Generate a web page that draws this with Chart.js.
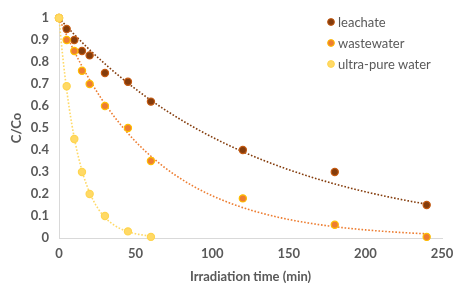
<!DOCTYPE html>
<html>
<head>
<meta charset="utf-8">
<script src="https://cdn.jsdelivr.net/npm/chart.js@4"></script>
<style>
  html, body { margin: 0; padding: 0; background: #fff; }
  #wrap { width: 453px; height: 283px; }
</style>
</head>
<body>
<div id="wrap"><canvas id="myChart" width="453" height="283"></canvas></div>
<script>
// irradiation times (min) and C/Co readings
const leachateTime = [0, 5, 10, 15, 20, 30, 45, 60, 120, 180, 240];
const leachateValues = [1, 0.95, 0.9, 0.85, 0.83, 0.75, 0.71, 0.62, 0.4, 0.3, 0.15];

const wastewaterTime = [0, 5, 10, 15, 20, 30, 45, 60, 120, 180, 240];
const wastewaterValues = [1, 0.9, 0.85, 0.76, 0.7, 0.6, 0.5, 0.35, 0.18, 0.06, 0.005];

const pureTime = [0, 5, 10, 15, 20, 30, 45, 60];
const pureValues = [1, 0.69, 0.45, 0.3, 0.2, 0.1, 0.03, 0.005];

const seriesNames = ["leachate", "wastewater", "ultra-pure water"];

const FONT = "Lato";
const GREY = "#595959";

// exponential trendline C/Co = exp(-k t), k found by least squares on the data
function fitRate(xs, ys) {
  let best = 0, bestErr = Infinity;
  for (let k = 0.0001; k < 0.2; k += 0.0001) {
    let err = 0;
    for (let i = 0; i < xs.length; i++) {
      const r = Math.exp(-k * xs[i]) - ys[i];
      err += r * r;
    }
    if (err < bestErr) { bestErr = err; best = k; }
  }
  return best;
}

function trend(xs, ys) {
  const k = fitRate(xs, ys);
  const maxX = Math.max(...xs);
  const pts = [];
  for (let t = 0; t <= maxX; t += 1) pts.push({ x: t, y: Math.exp(-k * t) });
  return pts;
}

function toPoints(xs, ys) {
  return xs.map((x, i) => ({ x: x, y: ys[i] }));
}

const styles = [
  { fill: "#843C0C", border: "#C55A11", line: "#843C0C" },
  { fill: "#ED7D31", border: "#FFC000", line: "#ED7D31" },
  { fill: "#FFD966", border: "#FFD54F", line: "#FFD966" },
];

const raw = [
  [leachateTime, leachateValues],
  [wastewaterTime, wastewaterValues],
  [pureTime, pureValues],
];

const datasets = [];
raw.forEach((s, i) => {
  datasets.push({
    label: seriesNames[i],
    data: toPoints(s[0], s[1]),
    showLine: false,
    pointRadius: 3.6,
    pointHoverRadius: 3.6,
    pointBackgroundColor: styles[i].fill,
    pointBorderColor: styles[i].border,
    pointBorderWidth: 1.2,
    backgroundColor: styles[i].fill,
    borderColor: styles[i].border,
    order: 3 - i,
    clip: false,
  });
  datasets.push({
    label: "trend " + seriesNames[i],
    data: trend(s[0], s[1]),
    showLine: true,
    pointRadius: 0,
    borderColor: styles[i].line,
    borderWidth: 1.6,
    borderDash: [1.6, 1.8],
    fill: false,
    order: 10 + i,
    clip: false,
  });
});

// legend drawn inside the plot, top right
const insideLegend = {
  id: "insideLegend",
  afterDraw(chart) {
    const ctx = chart.ctx;
    ctx.save();
    ctx.font = "13px " + FONT;
    ctx.textBaseline = "middle";
    seriesNames.forEach((name, i) => {
      const y = 22 + i * 21;
      ctx.beginPath();
      ctx.arc(331, y, 3.4, 0, Math.PI * 2);
      ctx.fillStyle = styles[i].fill;
      ctx.fill();
      ctx.lineWidth = 1;
      ctx.strokeStyle = styles[i].border;
      ctx.stroke();
      ctx.fillStyle = GREY;
      ctx.fillText(name, 338, y + 0.5);
    });
    ctx.restore();
  },
};

const ctx = document.getElementById("myChart").getContext("2d");
new Chart(ctx, {
  type: "scatter",
  data: { datasets: datasets },
  options: {
    responsive: false,
    animation: false,
    events: [],
    layout: { padding: { top: 18, right: 11, left: 0, bottom: 0 } },
    plugins: { legend: { display: false }, tooltip: { enabled: false } },
    scales: {
      x: {
        type: "linear",
        min: 0,
        max: 250,
        ticks: { stepSize: 50, color: GREY, font: { family: FONT, size: 13, weight: "bold" }, padding: 8 },
        grid: { display: false, drawTicks: false },
        border: { display: true, color: "#D9D9D9", width: 1 },
        title: {
          display: true,
          text: "Irradiation time (min)",
          color: GREY,
          font: { family: FONT, size: 13, weight: "bold" },
          padding: { top: 4, bottom: -2 },
        },
        afterFit(scale) {
          scale.height = 45;
          scale.paddingLeft = 0;
          scale.paddingRight = 0;
        },
      },
      y: {
        min: 0,
        max: 1,
        ticks: {
          stepSize: 0.1,
          color: GREY,
          font: { family: FONT, size: 13, weight: "bold" },
          padding: 10,
          callback: (v) => String(Number(v.toFixed(1))),
        },
        grid: { display: false, drawTicks: false },
        border: { display: true, color: "#D9D9D9", width: 1 },
        title: {
          display: true,
          text: "C/Co",
          color: GREY,
          font: { family: FONT, size: 13, weight: "bold" },
          padding: { top: 9, bottom: 0 },
        },
        afterFit(scale) {
          scale.width = 59;
          scale.paddingTop = 0;
          scale.paddingBottom = 0;
        },
      },
    },
  },
  plugins: [insideLegend],
});
</script>
</body>
</html>
